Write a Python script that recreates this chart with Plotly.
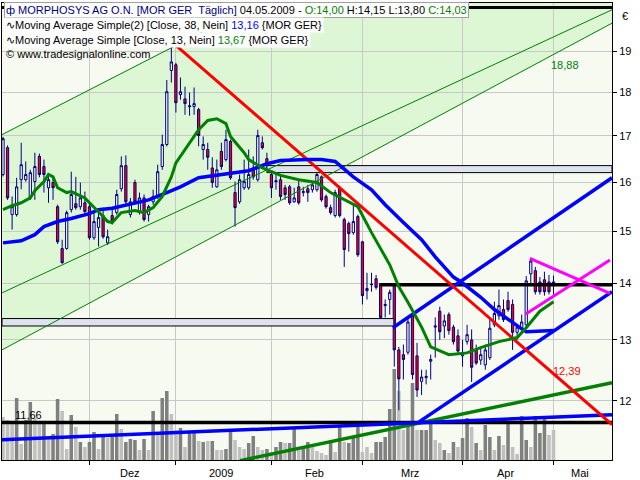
import math
import plotly.graph_objects as go

# ---------------- data ----------------
opens = [16.16,16.74,15.33,15.33,16.05,16.05,15.67,16.01,16.55,16.33,
         15.88,15.99,15.49,14.66,14.66,15.43,15.55,15.49,15.57,15.49,
         14.87,15.07,15.31,14.77,15.31,15.37,15.86,16.35,15.33,15.99,
         15.37,15.67,15.33,15.59,15.70,16.33,16.81,18.53,18.67,17.95,
         17.85,17.69,17.67,17.60,16.70,16.70,16.30,15.90,16.66,16.48,
         16.88,15.78,15.59,15.88,15.88,16.26,16.05,16.85,16.50,16.16,
         16.03,16.05,15.88,15.90,15.59,15.90,15.78,15.86,15.84,15.84,
         16.11,15.70,15.47,15.31,15.88,15.23,15.15,14.97,15.29,14.79,
         13.87,13.99,14.09,14.00,13.60,13.71,13.95,12.83,12.75,12.79,
         13.42,12.73,12.31,12.37,12.64,13.22,13.50,13.24,13.44,13.22,
         13.07,12.73,12.97,13.00,12.83,12.66,12.58,12.70,13.26,13.42,
         13.53,13.69,13.62,13.13,13.20,13.26,14.18,14.24,14.03,14.07,
         14.03,14.00]
highs = [16.98,16.79,15.70,16.09,16.85,16.44,16.26,16.63,16.61,16.48,
         16.16,16.09,15.53,14.83,15.41,16.22,16.11,15.99,15.80,15.57,
         15.37,15.43,15.47,15.03,15.43,15.84,16.55,16.57,15.67,16.05,
         15.78,15.74,15.53,15.84,16.37,17.03,18.30,19.10,18.72,18.36,
         18.14,18.00,18.12,17.64,16.99,16.85,16.53,16.48,16.85,17.14,
         16.92,16.01,16.16,16.48,16.70,16.55,17.14,16.99,16.63,16.20,
         16.16,16.16,15.94,15.94,15.88,16.05,15.90,15.94,15.99,16.22,
         16.14,15.74,15.53,15.84,15.92,15.27,15.19,15.53,15.33,14.81,
         14.20,14.20,14.16,14.01,13.71,13.89,13.98,12.88,12.92,13.39,
         13.44,12.95,12.50,12.50,12.75,13.39,13.58,13.44,13.48,13.26,
         13.18,13.00,13.26,13.18,12.92,12.88,12.92,13.37,13.67,13.89,
         13.71,13.85,13.71,13.26,13.44,14.14,14.45,14.31,14.12,14.22,
         14.16,14.15]
lows = [16.12,15.63,15.03,15.29,15.85,16.01,15.63,15.63,16.10,15.78,
        15.57,15.63,14.75,14.37,14.64,15.37,15.43,15.43,15.35,14.83,
        14.83,14.70,14.85,14.73,15.13,15.33,15.80,15.55,15.27,15.53,
        15.33,15.19,15.19,15.53,15.65,16.26,16.77,18.24,17.53,17.83,
        17.48,17.46,17.48,16.77,16.48,16.26,15.88,15.88,16.26,16.44,
        16.05,15.09,15.55,15.84,15.84,16.05,16.01,16.70,16.30,15.67,
        15.84,15.63,15.63,15.53,15.57,15.53,15.70,15.59,15.78,15.80,
        15.59,15.45,15.33,15.27,15.27,14.31,14.60,14.93,14.50,13.62,
        13.71,13.85,13.89,13.31,13.39,13.44,12.55,11.85,12.34,12.75,
        12.34,12.06,12.09,12.26,12.34,12.70,13.00,13.03,13.09,12.92,
        12.75,12.55,12.92,12.30,12.58,12.58,12.50,12.66,13.22,13.35,
        13.31,13.49,12.83,13.00,13.18,13.22,13.98,13.80,13.80,13.78,
        13.80,13.80]
closes = [16.94,15.67,15.49,15.90,16.37,16.16,16.20,16.33,16.16,16.16,
          16.05,15.88,14.79,14.39,15.37,15.74,15.47,15.67,15.39,14.87,
          15.19,15.27,14.89,14.89,15.21,15.74,16.35,15.59,15.59,15.59,
          15.67,15.23,15.49,15.70,16.22,16.81,18.02,18.74,17.76,18.02,
          17.74,17.67,17.74,17.01,16.81,16.53,15.99,16.26,16.33,16.92,
          16.09,15.47,16.05,16.01,16.16,16.11,17.01,16.74,16.37,15.88,
          16.01,15.70,15.74,15.57,15.67,15.57,15.80,15.78,15.94,16.16,
          15.63,15.49,15.37,15.78,15.31,14.64,14.95,15.19,14.54,13.78,
          13.91,13.98,13.93,13.39,13.62,13.84,12.83,12.35,12.67,13.31,
          12.42,12.17,12.38,12.39,12.67,13.24,13.14,13.33,13.16,12.97,
          12.81,12.77,13.09,12.54,12.61,12.75,12.83,13.20,13.46,13.60,
          13.35,13.53,13.13,13.22,13.31,14.05,14.42,13.85,13.85,13.85,
          13.85,14.03]
volume = [43,40,39,62,16,40,58,42,39,39, 23,26,61,49,11,45,33,18,13,18,
          28,11,26,22,23,46,31,18,21,20, 10,21,10,49,25,62,69,46,30,32,
          13,28,27,19,18,19,19,10,10,11, 28,20,13,11,17,24,13,10,11,8,
          13,18,17,17,32,10,13,18,13,9, 7,5,17,8,33,18,17,23,33,8,
          13,7,18,18,23,51,91,69,30,38, 77,30,30,30,41,20,17,10,7,18,
          13,22,42,33,17,10,35,23,10,24, 15,38,13,6,44,20,13,44,27,42,
          25,30]
volume_dark = [0,0,0,1,0,1,1,0,0,1, 0,1,1,0,0,1,0,1,0,1,
               1,0,1,0,1,1,0,1,1,1, 0,1,0,1,0,1,1,0,0,1,
               0,1,1,0,1,0,1,0,0,1, 1,0,0,0,1,1,0,0,1,0,
               1,1,0,1,1,0,1,1,0,0, 0,0,1,0,1,0,1,1,1,0,
               0,0,1,1,1,1,1,0,0,1, 1,0,1,1,1,0,0,1,0,1,
               0,1,1,0,1,0,1,1,0,1, 0,1,0,0,1,1,0,1,1,1,
               0,0]

ma38_idx = [0,4,7,9,12,15,19,21,24,29, 32,36,39,43,48,54,58,61,67,70,
            73,77,81,84,88,92,95,99,101,105, 108,111,114,115,121]
ma38_val = [14.77,14.81,14.93,15.09,15.19,15.25,15.35,15.43,15.46,15.57,
            15.63,15.78,15.90,16.09,16.16,16.24,16.39,16.46,16.48,16.48,
            16.44,16.11,15.84,15.53,15.17,14.83,14.50,14.12,14.01,13.75,
            13.53,13.35,13.19,13.14,13.16]
ma13_idx = [0,2,4,6,7,9,10,11,12,14, 15,18,19,21,22,23,24,26,29,31,
            33,35,37,38,40,43,45,47,49,50, 53,54,57,61,65,69,72,78,81,85,
            87,89,92,94,98,102,105,109,113,115, 118,121]
ma13_val = [15.43,15.51,15.57,15.67,15.82,16.01,16.16,16.11,15.88,15.78,
            15.80,15.67,15.57,15.39,15.29,15.19,15.17,15.37,15.41,15.37,
            15.47,15.70,16.11,16.41,16.70,17.14,17.35,17.39,17.28,16.99,
            16.63,16.48,16.30,16.14,16.05,15.99,15.78,15.49,14.97,14.35,
            13.94,13.66,13.22,12.88,12.75,12.78,12.87,12.97,13.04,13.21,
            13.50,13.67]

month_start = [19, 38, 59, 79, 101, 121]
month_label = ["Dez", "2009", "Feb", "Mrz", "Apr", "Mai"]
price_ticks = [12, 13, 14, 15, 16, 17, 18, 19]

# drawing-tool lines: (index pair, price pair)
red_trend = ([37.8, 133.85], [19.17, 11.63])
blue_upper = ([85.7, 133.85], [13.21, 16.09])
blue_lower = ([91.2, 133.85], [11.66, 13.85])
blue_base = ([-0.22, 133.85], [11.40, 11.78])
green_base = ([52.1, 133.85], [11.09, 12.29])
magenta_down = ([115.8, 133.4], [14.47, 13.82])
magenta_up = ([114.9, 133.4], [13.45, 14.44])
black_top = ([-0.22, 133.85], [20.13, 20.13])
black_mid = ([82.9, 133.85], [13.98, 13.98])
black_low = ([-0.22, 133.85], [11.66, 11.66])
chan_a = ([-0.22, 133.85], [17.03, 25.7])
chan_b = ([-0.22, 133.85], [13.83, 20.07])
chan_c = ([-0.22, 133.85], [12.83, 19.72])
zone_hi = ([58.0, 133.85], [16.20, 16.35])
zone_lo = ([-0.22, 85.9], [13.24, 13.37])

X_MIN, X_MAX = -0.22, 133.85
P_MIN, P_MAX = 11.10, 20.25

def de(v):
    return f"{v:.2f}".replace(".", ",")

idx = list(range(len(closes)))
fig = go.Figure()

# volume (primary, hidden axis)
fig.add_trace(go.Bar(x=idx, y=volume, width=0.78,
                     marker=dict(color=['#808080' if d else '#c0c0c0' for d in volume_dark],
                                 line=dict(width=0)),
                     yaxis='y', hoverinfo='skip'))

def box(zone):
    (i0, i1), (p0, p1) = zone
    fig.add_trace(go.Scatter(x=[i0, i1, i1, i0, i0], y=[p0, p0, p1, p1, p0],
                             mode='lines', fill='toself', fillcolor='#dde2ee',
                             line=dict(color='black', width=1), yaxis='y2',
                             hoverinfo='skip'))

def seg(line, color, width):
    fig.add_trace(go.Scatter(x=line[0], y=line[1], mode='lines',
                             line=dict(color=color, width=width), yaxis='y2',
                             hoverinfo='skip'))

box(zone_hi)
box(zone_lo)
for ch in (chan_a, chan_b, chan_c):
    seg(ch, '#008000', 1)

fig.add_trace(go.Candlestick(
    x=idx, open=opens, high=highs, low=lows, close=closes, yaxis='y2',
    whiskerwidth=0,
    increasing=dict(line=dict(color='#000080', width=1), fillcolor='white'),
    decreasing=dict(line=dict(color='#000080', width=1), fillcolor='#ff0000'),
    hoverinfo='skip'))

seg(black_top, 'black', 3)
seg(black_mid, 'black', 3.5)
seg(black_low, 'black', 3.5)
seg(green_base, '#008000', 3.5)
seg(blue_base, '#0000ff', 3.5)
seg(blue_upper, '#0000ff', 3.5)
seg(blue_lower, '#0000ff', 3.5)
seg(red_trend, '#ff0000', 3)
seg(magenta_down, '#ff00ff', 3)
seg(magenta_up, '#ff00ff', 3)
fig.add_trace(go.Scatter(x=ma38_idx, y=ma38_val, mode='lines',
                         line=dict(color='#0000ff', width=3.5), yaxis='y2', hoverinfo='skip'))
fig.add_trace(go.Scatter(x=ma13_idx, y=ma13_val, mode='lines',
                         line=dict(color='#008000', width=3), yaxis='y2', hoverinfo='skip'))

# channel fill below the grid
(a0, a1), (pa0, pa1) = chan_a
(c0, c1), (pc0, pc1) = chan_c
fig.add_shape(type='path', xref='x', yref='y2', layer='below',
              path=f"M {a0},{pa0} L {a1},{pa1} L {c1},{pc1} L {c0},{pc0} Z",
              fillcolor='#ddf7d5', line=dict(width=0))

F = "Liberation Sans, Arial, sans-serif"
ann = []
line1 = ('<span style="color:#000080">ф MORPHOSYS AG O.N. [MOR GER  Täglich]</span> '
         f'04.05.2009 - <span style="color:#008000">O:{de(opens[-1])}</span> '
         f'H:{de(highs[-1])} L:{de(lows[-1])} <span style="color:#008000">C:{de(closes[-1])}</span>')
line2 = (f'∿Moving Average Simple(2) [Close, 38, Nein] '
         f'<span style="color:#0000ff">{de(ma38_val[-1])}</span> {{MOR GER}}')
line3 = (f'∿Moving Average Simple [Close, 13, Nein] '
         f'<span style="color:#008000">{de(ma13_val[-1])}</span> {{MOR GER}}')
line4 = '© www.tradesignalonline.com'
for k, (t, bg) in enumerate([(line1, 'white'), (line2, 'white'), (line3, 'white'), (line4, None)]):
    d = dict(text=t, xref='paper', yref='paper', x=0.003, y=0.985 - k * 0.0325,
             xanchor='left', yanchor='middle', showarrow=False,
             font=dict(family=F, size=11, color='black'), borderpad=1)
    if bg:
        d['bgcolor'] = bg
    if k == 0:
        d['bordercolor'] = '#a0a0a0'
        d['borderwidth'] = 1
    ann.append(d)

ends = month_start[1:] + [X_MAX]
for s, e, lab in zip(month_start, ends, month_label):
    ann.append(dict(text=lab, xref='x', x=(s + e) / 2 - 0.6, yref='paper', y=-0.011,
                    yanchor='top', showarrow=False, font=dict(family=F, size=11, color='black')))

ann.append(dict(text='€', xref='paper', x=1.013, yref='paper', y=0.989, xanchor='left',
                showarrow=False, font=dict(family=F, size=11, color='black')))
ann.append(dict(text='11,66', xref='x', x=2.3, yref='y2', y=math.log10(11.78), xanchor='left',
                showarrow=False, font=dict(family=F, size=11, color='black')))
ann.append(dict(text='18,88', xref='x', x=123.6, yref='y2', y=math.log10(18.67),
                showarrow=False, font=dict(family=F, size=11, color='#008000')))
ann.append(dict(text='12,39', xref='x', x=124.0, yref='y2', y=math.log10(12.48),
                showarrow=False, font=dict(family=F, size=11, color='#ff0000')))

fig.update_layout(
    width=640, height=480, margin=dict(l=2, r=28, t=3, b=20),
    paper_bgcolor='white', plot_bgcolor='#f6faf0', showlegend=False,
    font=dict(family=F, size=11, color='black'),
    xaxis=dict(range=[X_MIN, X_MAX], tickvals=month_start, ticks='outside', ticklen=4,
               tickcolor='black', showticklabels=False, showgrid=True, gridcolor='#c8c8c8',
               gridwidth=1, showline=True, linecolor='black', mirror=True, zeroline=False,
               rangeslider=dict(visible=False), fixedrange=True),
    yaxis=dict(range=[0, 457], visible=False, fixedrange=True),
    yaxis2=dict(type='log', range=[math.log10(P_MIN), math.log10(P_MAX)], overlaying='y',
                side='right', tickvals=price_ticks, ticktext=[str(t) for t in price_ticks],
                ticks='outside', ticklen=4, tickcolor='black', showgrid=True,
                gridcolor='#c8c8c8', gridwidth=1, showline=True, linecolor='black',
                mirror=True, zeroline=False, fixedrange=True,
                tickfont=dict(family=F, size=11, color='black')),
    annotations=ann,
)
fig.write_html("out.html", config={"displayModeBar": False},
               post_script="document.body.style.margin='0';document.body.style.overflow='hidden';")
